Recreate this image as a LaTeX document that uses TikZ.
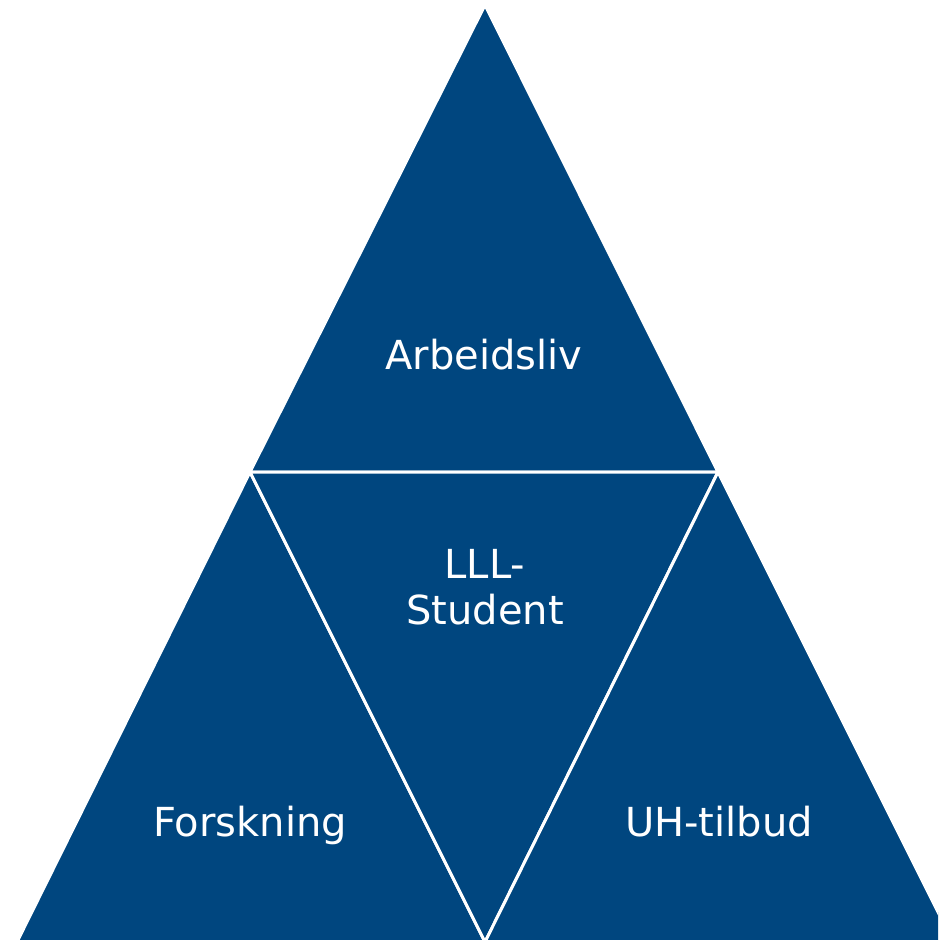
\documentclass[tikz,border=0pt]{standalone}
\usepackage{fontspec}
\setmainfont{DejaVu Sans}
\usetikzlibrary{positioning}
\definecolor{uhblue}{RGB}{0,70,127}
\tikzset{x=1pt,y=-1pt,
    piece/.style={fill=uhblue,draw=white,line width=3pt,line join=miter},
    label/.style={text=white,font=\fontsize{40}{46}\selectfont,align=center,inner sep=0pt,anchor=base}}

\begin{document}
\begin{tikzpicture}
\useasboundingbox (0,0) rectangle (938,940);
\begin{scope}
\clip (0,0) rectangle (938,940);
% corners
\coordinate (top) at (485,5);
\coordinate (midl) at (250,472);
\coordinate (midr) at (718,472);
\coordinate (botl) at (17,942);
\coordinate (botm) at (485,942);
\coordinate (botr) at (953,942);
\path[piece] (top) -- (midl) -- (midr) -- cycle;
\path[piece] (midl) -- (botl) -- (botm) -- cycle;
\path[piece] (midl) -- (midr) -- (botm) -- cycle;
\path[piece] (midr) -- (botm) -- (botr) -- cycle;
\end{scope}
\node[label] (arbeid) at (484,369) {Arbeidsliv};
\node[label] (student) at (485,624) {LLL-\\Student};
\node[label] (forsk) at (250,836) {Forskning};
\node[label] (uh) at (719,836) {UH-tilbud};
\end{tikzpicture}
\end{document}
